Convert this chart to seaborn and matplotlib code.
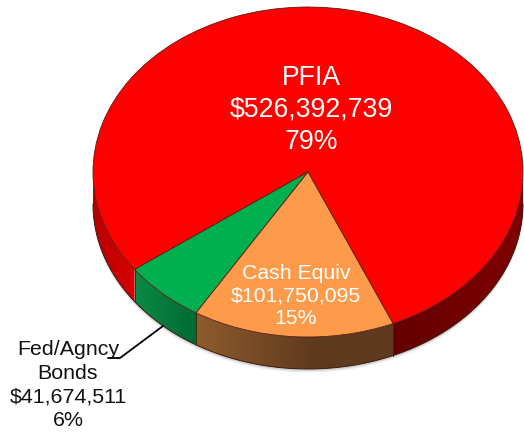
import numpy as np
import matplotlib
matplotlib.use("Agg")
import matplotlib.pyplot as plt
from matplotlib.colors import to_rgb
from matplotlib.patches import Polygon
import seaborn as sns

names = ["PFIA", "Fed/Agncy\nBonds", "Cash Equiv"]
amounts = [526392739, 41674511, 101750095]
percents = ["79%", "6%", "15%"]
top_colors = ["#FF0000", "#00B050", "#FD9B4B"]

sns.set_theme(style="white")
plt.rcParams['font.family'] = ['Liberation Sans', 'DejaVu Sans']

W, H = 524, 436
CX, CY, RX, RY = 308, 172, 215, 165
DEPTH = 32 / RY
START = 293.3


def px(x, y):
    return (x - CX) / RX, (CY - y) / RY


fig = plt.figure(figsize=(W / 100, H / 100), dpi=100)
ax = fig.add_axes([0, 0, 1, 1])

# soft shadow under the body
for off, col in [(3.5, "#EDEDED"), (2, "#D0D0D0")]:
    ax.pie(amounts, colors=[col] * 3, startangle=START, counterclock=True,
           center=(0, -DEPTH - off / RY), wedgeprops={"linewidth": 0, "zorder": 1})

# side wall sections from the slice angles: from, to, left colour, right colour, share of width for the blend
fracs = np.array(amounts) / sum(amounts)
edges = START + np.concatenate([[0], np.cumsum(fracs)]) * 360
sections = [
    (180, edges[1] - 360, "#B80000", "#D80000", 1.0),
    (edges[1] - 360, edges[2] - 360, "#0B8A45", "#006A32", 1.0),
    (edges[2] - 360, START, "#8F5C2C", "#5E3A1E", 0.6),
    (START, 360, "#640000", "#800000", 1.0),
]
for a0, a1, c0, c1, share in sections:
    th = np.radians(np.linspace(a0, a1, 80))
    xs, ys = np.cos(th), np.sin(th)
    t = np.clip(np.linspace(0, 1, 200) / share, 0, 1)[None, :, None]
    grad = np.array(to_rgb(c0))[None, None, :] * (1 - t) + np.array(to_rgb(c1))[None, None, :] * t
    im = ax.imshow(grad, extent=[xs.min(), xs.max(), (ys - DEPTH).min(), ys.max()],
                   aspect="auto", interpolation="bilinear", zorder=2)
    outline = np.vstack([np.c_[xs, ys], np.c_[xs[::-1], ys[::-1] - DEPTH]])
    im.set_clip_path(Polygon(outline, closed=True, transform=ax.transData))

# lower outline and wall dividers
th = np.radians(np.linspace(180, 360, 200))
ax.plot(np.cos(th), np.sin(th) - DEPTH, color="#3A1A10", lw=0.7, zorder=3)
for e in edges[1:]:
    t = np.radians(e)
    if np.sin(t) < 0:
        ax.plot([np.cos(t)] * 2, [np.sin(t), np.sin(t) - DEPTH], color="#2A2A10", lw=0.6, zorder=3)
t = np.radians(START)
ax.plot([np.cos(t)] * 2, [np.sin(t), np.sin(t) - DEPTH], color="#2A2A10", lw=0.6, zorder=3)

# top face
ax.pie(amounts, colors=top_colors, startangle=START, counterclock=True,
       wedgeprops={"linewidth": 0.6, "edgecolor": "#5A1A10", "zorder": 4})

ax.set_aspect("auto")
ax.set_xlim((0 - CX) / RX, (W - CX) / RX)
ax.set_ylim((CY - H) / RY, CY / RY)
ax.axis("off")


def money(v):
    return "${:,}".format(v)


x, y = px(311, 110)
ax.text(x, y, "\n".join([names[0], money(amounts[0]), percents[0]]), color="white",
        fontsize=19.2, ha="center", va="center", linespacing=1.28, zorder=6)
x, y = px(296, 296)
ax.text(x, y, "\n".join([names[2], money(amounts[2]), percents[2]]), color="white",
        fontsize=15.3, ha="center", va="center", linespacing=1.26, zorder=6)
x, y = px(68, 385)
ax.text(x, y, "\n".join([names[1], money(amounts[1]), percents[1]]), color="#111111",
        fontsize=15.4, ha="center", va="center", linespacing=1.33, zorder=6)

lx, ly = zip(px(163, 326), px(120, 358), px(108, 358))
ax.plot(lx, ly, color="black", lw=1.3, zorder=5)

fig.savefig("out.png", dpi=100)
